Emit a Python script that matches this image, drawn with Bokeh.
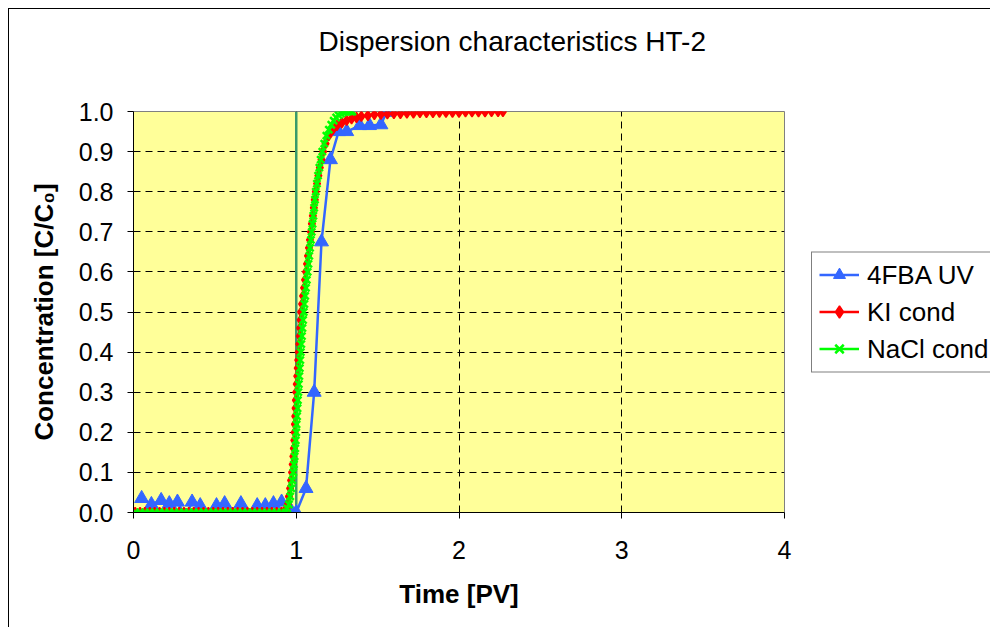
from bokeh.plotting import figure
from bokeh.models import (Range1d, FixedTicker, Legend, LegendItem,
                          NumeralTickFormatter, Title)
from bokeh.embed import file_html
from bokeh.resources import INLINE

# ---------------- data ----------------
x_ticks = [0, 1, 2, 3, 4]
y_ticks = [0.0, 0.1, 0.2, 0.3, 0.4, 0.5, 0.6, 0.7, 0.8, 0.9, 1.0]

uv_x = [0.05, 0.11, 0.17, 0.22, 0.27, 0.32, 0.36, 0.41, 0.46, 0.51, 0.56, 0.61,
        0.66, 0.71, 0.76, 0.81, 0.86, 0.91, 0.96, 1.00, 1.06, 1.11, 1.155, 1.21,
        1.26, 1.31, 1.39, 1.45, 1.52, 1.555]
uv_y = [0.035, 0.02, 0.03, 0.022, 0.026, -0.01, 0.026, 0.017, -0.01, 0.017, 0.022,
        -0.008, 0.022, -0.01, 0.017, 0.017, 0.022, 0.026, 0.01, 0.0, 0.06, 0.30,
        0.675, 0.88, 0.95, 0.95, 0.965, 0.965, 0.967, 0.998]

ki_x = [-0.02, 0.01, 0.04, 0.07, 0.10, 0.13, 0.16, 0.19, 0.22, 0.25, 0.28, 0.31,
        0.34, 0.37, 0.40, 0.43, 0.46, 0.49, 0.52, 0.55, 0.58, 0.61, 0.64, 0.67,
        0.70, 0.73, 0.76, 0.79, 0.82, 0.85, 0.88, 0.91,
        0.93, 0.94, 0.948, 0.955, 0.962, 0.968, 0.974, 0.978, 0.982, 0.985, 0.988,
        0.99, 0.992, 0.994, 0.996, 0.998, 1.0, 1.003, 1.006, 1.009, 1.012, 1.015,
        1.018, 1.021, 1.024, 1.027, 1.03, 1.036, 1.042, 1.048, 1.054, 1.06, 1.066,
        1.072, 1.078, 1.084, 1.09, 1.096, 1.102, 1.108, 1.114, 1.12, 1.128, 1.136,
        1.145, 1.155, 1.165, 1.18, 1.20, 1.225, 1.25, 1.28, 1.31, 1.34, 1.37, 1.40,
        1.44, 1.48, 1.52, 1.56, 1.60, 1.64, 1.68, 1.72, 1.76, 1.80, 1.84, 1.88,
        1.92, 1.96, 2.00, 2.04, 2.08, 2.12, 2.16, 2.20, 2.24, 2.27]
ki_y = [0.0, 0.0, 0.0, 0.0, 0.0, 0.0, 0.0, 0.0, 0.0, 0.0, 0.0, 0.0,
        0.0, 0.0, 0.0, 0.0, 0.0, 0.0, 0.0, 0.0, 0.0, 0.0, 0.0, 0.0,
        0.0, 0.0, 0.0, 0.0, 0.0, 0.0, 0.0, 0.0,
        0.0, 0.01, 0.02, 0.04, 0.06, 0.08, 0.10, 0.12, 0.14, 0.16, 0.18,
        0.20, 0.22, 0.24, 0.26, 0.28, 0.30, 0.32, 0.34, 0.36, 0.38, 0.40,
        0.42, 0.44, 0.46, 0.48, 0.50, 0.52, 0.54, 0.56, 0.58, 0.60, 0.62,
        0.64, 0.66, 0.68, 0.70, 0.72, 0.74, 0.76, 0.78, 0.80, 0.82, 0.84,
        0.86, 0.88, 0.90, 0.92, 0.94, 0.955, 0.965, 0.972, 0.978, 0.982, 0.985, 0.988,
        0.99, 0.992, 0.993, 0.994, 0.995, 0.995, 0.996, 0.996, 0.997, 0.997, 0.997, 0.998,
        0.998, 0.998, 0.998, 0.999, 0.999, 0.999, 0.999, 1.0, 1.0, 1.0]

nacl_x = [-0.02, 0.01, 0.04, 0.07, 0.10, 0.13, 0.16, 0.19, 0.22, 0.25, 0.28, 0.31,
          0.34, 0.37, 0.40, 0.43, 0.46, 0.49, 0.52, 0.55, 0.58, 0.61, 0.64, 0.67,
          0.70, 0.73, 0.76, 0.79, 0.82, 0.85, 0.88, 0.91,
          0.935, 0.945, 0.955, 0.963, 0.97, 0.976, 0.982, 0.986, 0.99, 0.994, 0.997,
          1.0, 1.002, 1.005, 1.008, 1.01, 1.013, 1.016, 1.019, 1.022, 1.025, 1.028,
          1.031, 1.035, 1.038, 1.042, 1.046, 1.05, 1.055, 1.06, 1.065, 1.07, 1.075,
          1.08, 1.085, 1.09, 1.095, 1.10, 1.105, 1.11, 1.115, 1.12, 1.127, 1.134,
          1.142, 1.15, 1.16, 1.172, 1.185, 1.20, 1.215, 1.23, 1.245, 1.26, 1.275,
          1.29, 1.305, 1.32, 1.335, 1.345]
nacl_y = [0.0, 0.0, 0.0, 0.0, 0.0, 0.0, 0.0, 0.0, 0.0, 0.0, 0.0, 0.0,
          0.0, 0.0, 0.0, 0.0, 0.0, 0.0, 0.0, 0.0, 0.0, 0.0, 0.0, 0.0,
          0.0, 0.0, 0.0, 0.0, 0.0, 0.0, 0.0, 0.0,
          0.0, 0.01, 0.02, 0.04, 0.06, 0.08, 0.10, 0.12, 0.14, 0.16, 0.18,
          0.20, 0.22, 0.24, 0.26, 0.28, 0.30, 0.32, 0.34, 0.36, 0.38, 0.40,
          0.42, 0.44, 0.46, 0.48, 0.50, 0.52, 0.54, 0.56, 0.58, 0.60, 0.62,
          0.64, 0.66, 0.68, 0.70, 0.72, 0.74, 0.76, 0.78, 0.80, 0.82, 0.84,
          0.86, 0.88, 0.90, 0.92, 0.94, 0.955, 0.967, 0.977, 0.985, 0.991, 0.995,
          0.998, 1.0, 1.0, 1.0, 1.0]

marker_line_x = [1.0, 1.0]
marker_line_y = [0.0, 1.0]

FONT = "Liberation Sans"

p = figure(frame_width=651, frame_height=401, output_backend="svg",
           toolbar_location=None,
           x_range=Range1d(0, 4), y_range=Range1d(0, 1),
           min_border_left=124, min_border_right=206,
           min_border_top=102, min_border_bottom=115)
p.margin = (8, 0, 0, 8)
p.styles = {"border-left": "1px solid black", "border-top": "1px solid black"}

# spacer between plot area and title, then the title itself
spacer = Title(text=" ", text_font_size="1px", standoff=52)
p.add_layout(spacer, "above")
main_title = Title(text="Dispersion characteristics HT-2", text_font=FONT,
                   text_font_size="28px", text_font_style="normal",
                   text_color="black", align="left", offset=185,
                   vertical_align="bottom", standoff=0)
p.add_layout(main_title, "above")

p.background_fill_color = "#FFFF99"
p.border_fill_color = "white"
p.outline_line_color = "#808080"
p.outline_line_width = 1

for g in (p.xgrid, p.ygrid):
    g.grid_line_color = "black"
    g.grid_line_dash = "7 5"
    g.grid_line_width = 1

for ax in (p.xaxis, p.yaxis):
    ax.axis_line_color = "black"
    ax.major_tick_line_color = "black"
    ax.major_tick_in = 0
    ax.major_tick_out = 6
    ax.minor_tick_line_color = None
    ax.major_label_text_font = FONT
    ax.major_label_text_font_size = "25px"
    ax.major_label_text_color = "black"
    ax.axis_label_text_font = FONT
    ax.axis_label_text_font_size = "26px"
    ax.axis_label_text_font_style = "bold"
    ax.axis_label_text_color = "black"

p.xaxis.ticker = FixedTicker(ticks=x_ticks)
p.yaxis.ticker = FixedTicker(ticks=y_ticks)
p.yaxis.formatter = NumeralTickFormatter(format="0.0")
p.xaxis.axis_label = "Time [PV]"
p.yaxis.axis_label = "Concentration [C/C\u2080]"
p.xaxis.major_label_standoff = 22
p.yaxis.major_label_standoff = 14
p.xaxis.axis_label_standoff = 17
p.yaxis.axis_label_standoff = 17

# vertical reference line at 1 PV
p.line(marker_line_x, marker_line_y, line_color="#3A9A6A", line_width=2.5)

uv_l = p.line(uv_x, uv_y, line_color="#3366FF", line_width=2.5)
uv_m = p.scatter(uv_x, uv_y, marker="triangle", size=14, fill_color="#3366FF",
                 line_color="#3366FF")
ki_l = p.line(ki_x, ki_y, line_color="#FF0000", line_width=2.5)
ki_m = p.scatter(ki_x, ki_y, marker="diamond", size=10, fill_color="#FF0000",
                 line_color="#FF0000", line_width=1.5)
na_l = p.line(nacl_x, nacl_y, line_color="#00FF00", line_width=2.5)
na_m = p.scatter(nacl_x, nacl_y, marker="x", size=10, line_color="#00FF00",
                 line_width=2.5)

legend = Legend(items=[
    LegendItem(label="4FBA UV", renderers=[uv_l, uv_m]),
    LegendItem(label="KI cond", renderers=[ki_l, ki_m]),
    LegendItem(label="NaCl cond", renderers=[na_l, na_m]),
], location="center_left")
legend.label_text_font = FONT
legend.label_text_font_size = "26px"
legend.label_text_color = "black"
legend.glyph_width = 40
legend.glyph_height = 30
legend.label_height = 30
legend.spacing = 6
legend.padding = 7
legend.margin = 27
legend.label_standoff = 8
legend.border_line_color = "black"
legend.border_line_width = 1
legend.background_fill_color = "white"
legend.background_fill_alpha = 1
p.add_layout(legend, "right")

open("out.html", "w").write(file_html(p, INLINE))
